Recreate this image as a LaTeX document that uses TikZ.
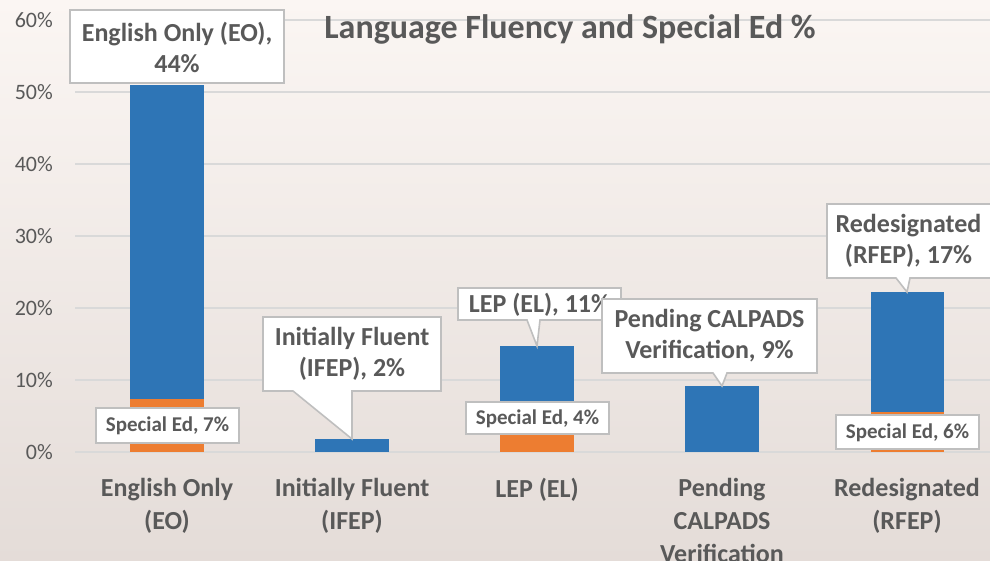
\documentclass[tikz,border=0pt]{standalone}
\usepackage{fontspec}
\setmainfont{Carlito}
\definecolor{txt}{HTML}{595959}
\definecolor{grid}{HTML}{D9D9D9}
\definecolor{barblue}{HTML}{2E75B6}
\definecolor{barorange}{HTML}{ED7D31}
\definecolor{cobord}{HTML}{BFBFBF}
\definecolor{bgtop}{HTML}{FBF6F3}
\definecolor{bgmid}{HTML}{FBE6D9}
\definecolor{bgbot}{HTML}{E4DCD8}
\begin{document}
\begin{tikzpicture}[x=1pt,y=-1pt,
  gridline/.style={draw=grid,line width=1.5pt},
  ytick/.style={anchor=east,text=txt,font=\fontsize{22}{26}\selectfont,inner sep=0pt},
  xlab/.style={anchor=north,align=center,text=txt,font=\bfseries\fontsize{26}{33}\selectfont,inner sep=0pt},
  bluebar/.style={fill=barblue},
  orangebar/.style={fill=barorange},
  callout/.style={draw=cobord,fill=white,line width=1.6pt,line join=miter},
  bigtxt/.style={align=center,text=txt,font=\bfseries\fontsize{26}{31}\selectfont,inner sep=0pt},
  smalltxt/.style={align=center,text=txt,font=\bfseries\fontsize{21}{25}\selectfont,inner sep=0pt},
  titletxt/.style={anchor=base,text=txt,font=\bfseries\fontsize{34}{40}\selectfont,inner sep=0pt}
]
\useasboundingbox (0,0) rectangle (990,561);
\shade[top color=bgtop,middle color=bgmid,bottom color=bgbot] (0,0) rectangle (990,561);

% gridlines and y labels
\foreach \v/\y in {0/452,10/380,20/308,30/236,40/164,50/92,60/20}{
  \draw[gridline] (75,\y) -- (990,\y);
  \node[ytick] (y\v) at (53,\y) {\v\%};
}

% title
\node[titletxt] (title) at (570,39) {Language Fluency and Special Ed \%};

% bars
\fill[orangebar] (130,452) rectangle (204,399);
\fill[bluebar] (130,399) rectangle (204,85);
\fill[bluebar] (315,452) rectangle (389,439);
\fill[orangebar] (500,452) rectangle (574,423);
\fill[bluebar] (500,423) rectangle (574,346);
\fill[bluebar] (685,452) rectangle (759,386);
\fill[orangebar] (871,452) rectangle (944,412);
\fill[bluebar] (871,412) rectangle (944,292);

% pointer tips
\coordinate (ifeptip) at (352,439);
\coordinate (leptip) at (537,346);
\coordinate (pendtip) at (722,386);
\coordinate (rfeptip) at (907,292);

% callouts
\draw[callout] (70,10) rectangle (284,83);
\node[bigtxt] (eolab) at (177,47) {English Only (EO),\\44\%};

\draw[callout] (96,408) rectangle (239,443);
\node[smalltxt] (sp7) at (167.5,426) {Special Ed, 7\%};

\draw[callout] (263,317) -- (441,317) -- (441,391) -- (352,391) -- (ifeptip) -- (293,391) -- (263,391) -- cycle;
\node[bigtxt] (ifeplab) at (352,354) {Initially Fluent\\(IFEP), 2\%};

\draw[callout] (458,288) -- (621,288) -- (621,320) -- (540,320) -- (leptip) -- (527,320) -- (458,320) -- cycle;
\node[bigtxt] (leplab) at (539.5,305) {LEP (EL), 11\%};

\draw[callout] (466,402) rectangle (609,434);
\node[smalltxt] (sp4) at (537.5,418.5) {Special Ed, 4\%};

\draw[callout] (602,299) -- (817,299) -- (817,373) -- (727,373) -- (pendtip) -- (713,373) -- (602,373) -- cycle;
\node[bigtxt] (pendlab) at (709.5,336) {Pending CALPADS\\Verification, 9\%};

\draw[callout] (827,204) -- (992,204) -- (992,278) -- (910,278) -- (rfeptip) -- (896,278) -- (827,278) -- cycle;
\node[bigtxt] (rfeplab) at (908.5,241) {Redesignated\\(RFEP), 17\%};

\draw[callout] (836,415) rectangle (979,449);
\node[smalltxt] (sp6) at (907.5,432.5) {Special Ed, 6\%};

% x axis labels
\node[xlab] (x1) at (167,478) {English Only\\(EO)};
\node[xlab] (x2) at (352,478) {Initially Fluent\\(IFEP)};
\node[xlab] (x3) at (537,478) {LEP (EL)};
\node[xlab] (x4) at (722,478) {Pending\\CALPADS\\Verification};
\node[xlab] (x5) at (907,478) {Redesignated\\(RFEP)};
\end{tikzpicture}
\end{document}
